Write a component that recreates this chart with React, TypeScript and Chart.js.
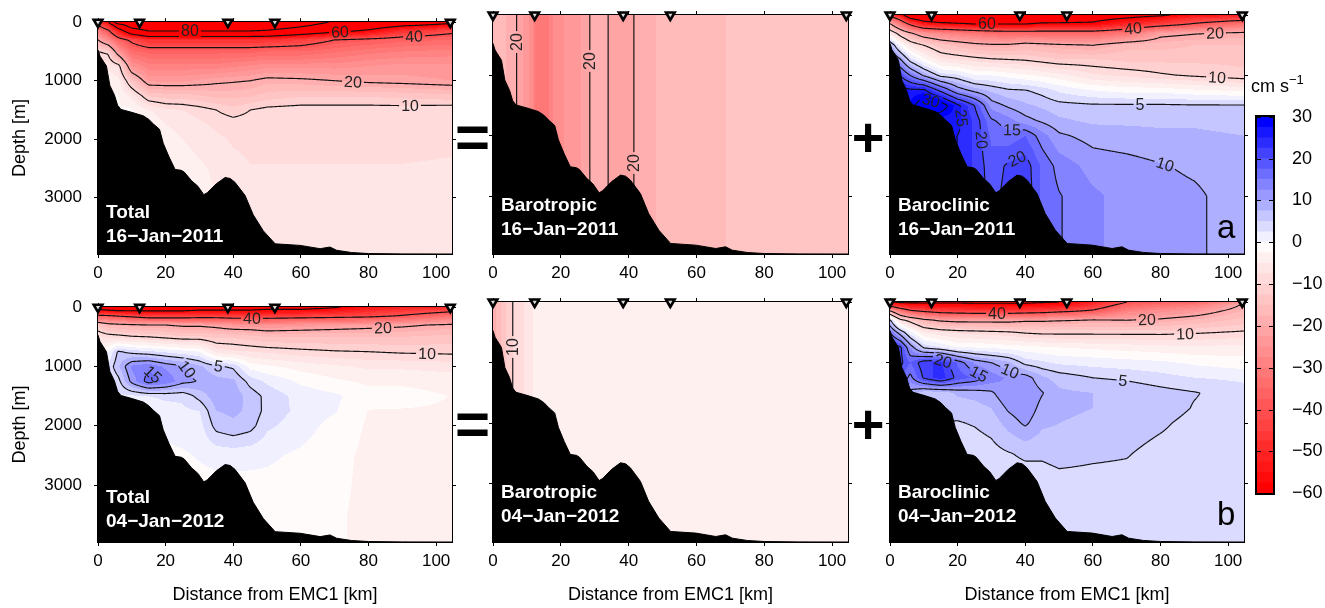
import React, { useEffect, useRef } from "react";
import { Chart, registerables } from "chart.js";

Chart.register(...registerables);

const FONT = '"Liberation Sans", Arial, Helvetica, sans-serif';
Chart.defaults.font.family = FONT;
Chart.defaults.color = "#000";

// ---------- axes ----------
const distTicks = [0, 20, 40, 60, 80, 100];
const depthTicks = [0, 1000, 2000, 3000];
const colorbarTicks = [30, 20, 10, 0, -10, -20, -30, -40, -50, -60];
const DIST_MAX = 104.7;
const DEPTH_MAX = 3960;
const C_MIN = -60;
const C_MAX = 30;
const C_STEP = 2.5;

// ---------- stations & bathymetry ----------
const stationKm = [0, 12.3, 38.4, 52.3, 104.2];

const bathyKm = [0, 0.6, 2.5, 3.5, 4.9, 5.8, 6.8, 10, 13.4, 15, 16.4, 18.2, 19.3, 21, 22.8, 24.6, 25.5, 27.7, 29.5, 31.3, 32.3, 35, 37.6, 39.1, 40.5, 42, 43.5, 45.9, 48.9, 52.4, 59.8, 65.7, 68.6, 70.6, 75, 80, 90, 104.7];
const bathyDepth = [470, 580, 750, 1080, 1250, 1420, 1490, 1540, 1600, 1660, 1740, 1830, 2070, 2300, 2515, 2530, 2560, 2710, 2800, 2946, 2913, 2760, 2653, 2670, 2735, 2847, 2960, 3289, 3565, 3786, 3813, 3869, 3841, 3897, 3935, 3952, 3958, 3960];

// ---------- velocity grids (cm/s), one column per gridKm, top to bottom over gridDepth ----------
const gridKm = [0, 3, 6, 10, 15, 20, 25, 30, 35, 40, 45, 50, 60, 70, 80, 90, 104.7];
const gridDepth = [0, 50, 150, 300, 500, 750, 1000, 1250, 1500, 1750, 2000, 2500, 3000, 3500, 4000];

const total2011 = [
  [-45, -40, -30, -20, -10, -5, -3, -3, -3, -3, -3, -3, -3, -3, -3],
  [-58, -50, -38, -27, -11, -6, -3, -2, -2, -2, -2, -2, -2, -2, -2],
  [-95, -70, -52, -36, -24, -8, -4, -2.5, -2, -2, -2, -2, -2, -2, -2],
  [-100, -90, -70, -42, -34, -25, -14, -6, -2.2, -2, -2, -2, -2, -2, -2],
  [-100, -96, -80, -48, -36, -29, -23, -13, -5, -2, -2, -2, -2, -2, -2],
  [-100, -96, -80, -48, -36, -29, -23, -14, -7, -5, -3.5, -2.5, -2, -2, -2],
  [-100, -96, -80, -48, -36, -29, -23, -14, -7.5, -6, -5, -3.5, -3, -3, -3],
  [-100, -96, -80, -48, -36, -29, -22, -15, -8.5, -7, -6, -4.5, -4, -4, -4],
  [-100, -96, -80, -48, -36, -29, -21, -16, -10, -8, -7, -5.5, -5, -5, -5],
  [-100, -96, -80, -48, -36, -28, -20.5, -16, -11.5, -8.5, -7.8, -6.8, -5.8, -5.5, -5.5],
  [-100, -96, -80, -48, -36, -27, -20, -15.5, -10, -8.5, -8, -7.4, -6.5, -6, -6],
  [-98, -94, -78, -48, -35, -26, -18.5, -14, -9, -8.5, -8, -7.4, -6.5, -6, -6],
  [-90, -84, -70, -45, -35, -26, -19, -13, -8.5, -8.3, -8, -7.4, -6.5, -6, -6],
  [-78, -72, -63, -40, -33, -26, -20, -13, -8.5, -8.3, -8, -7.4, -6.5, -6, -6],
  [-72, -68, -58, -38, -31, -25, -21, -13, -8.5, -8.3, -8, -7.4, -6.5, -6, -6],
  [-68, -62, -48, -36, -30, -24, -21.5, -13.5, -8.5, -8.2, -8, -7.4, -6.5, -6, -6],
  [-62, -57, -42, -35, -29, -24.5, -22.5, -14.5, -7.8, -7.8, -7.8, -7.3, -6.5, -6, -6],
];

const baroclinic2011 = [
  [-45, -35, -19, -5, 9, 16, 22, 28, 30, 30, 30, 30, 30, 30, 30],
  [-55, -45, -30, -13, 0, 11, 20, 27, 30, 30, 30, 30, 30, 30, 30],
  [-70, -61, -42, -19, -6, 4, 15, 26, 28, 28, 28, 28, 28, 28, 28],
  [-80, -68, -53, -25, -10, -1, 9.5, 26, 34, 30, 28, 28, 28, 28, 28],
  [-80, -72, -56, -28, -14, -6, 4, 19, 33, 26, 25, 25, 25, 25, 25],
  [-80, -72, -58, -30, -16, -7, 3, 12, 26, 26, 25, 25, 25, 25, 25],
  [-80, -72, -60, -32, -18, -8, 0, 9, 20, 22, 22, 22, 22, 22, 22],
  [-80, -72, -60, -34, -19, -9, 0, 7, 11.5, 15.5, 17, 18.5, 19, 19, 19],
  [-78, -72, -60, -35, -19, -9.5, -1, 5.5, 9.5, 13.5, 16, 20.5, 21, 21, 21],
  [-75, -70, -60, -35, -17, -10, -2, 5.2, 8, 11, 17.5, 21.5, 22, 22, 22],
  [-72, -68, -58, -35, -18, -11, -3, 4, 7, 9.5, 13.5, 17, 17, 17, 17],
  [-70, -67, -58, -35, -19, -12, -4, 2, 6, 8, 10.5, 14, 15.2, 15.2, 15.2],
  [-68, -64, -58, -35, -20, -12, -7, 0, 5.5, 7, 9, 11.5, 13, 13, 13],
  [-65, -60, -50, -32, -16, -13, -8, -1, 5.5, 7, 8.5, 11, 11.5, 11.5, 11.5],
  [-62, -55, -45, -22, -16, -13, -9.5, -1, 5.5, 7, 8, 10.2, 11, 11, 11],
  [-55, -48, -39, -20.5, -15, -13, -10.5, -2, 5.3, 7, 8, 9.5, 10.5, 10.5, 10.5],
  [-52, -45, -32, -19, -15, -13, -12, -3, 5.3, 6.5, 7.5, 8.5, 8.5, 8.5, 8.5],
];

const total2012 = [
  [-65, -58, -37, -13, -7, -2, 1, 1, 1, -1, -1, -1, -1, -1, -1],
  [-68, -60, -38, -17, -8, 0, 3, 2, 1, -1, -1, -1, -1, -1, -1],
  [-68, -62, -40, -18, -8.5, 5.5, 7, 4, 2, 0.5, -0.5, -1, -1, -1, -1],
  [-68, -62, -42, -19, -9.5, 4, 13, 11, 2, 1, -0.5, -1, -1, -1, -1],
  [-68, -62, -45, -20, -10, 3, 14.5, 16.5, 2.5, 0.5, -0.5, -1, -1, -1, -1],
  [-67, -62, -45, -20, -11, 2, 12, 14.5, 3, 1.5, 0.5, -0.5, -1, -1, -1],
  [-67, -62, -45, -21, -12, 1, 10.5, 11, 3, 2, 1, -0.3, -1, -1, -1],
  [-66, -60, -44, -21, -12, 0, 8, 9.8, 6, 2.5, 1.5, 0.2, -0.8, -1, -1],
  [-66, -60, -44, -22, -13, -6, 5.5, 8.5, 9, 7.5, 6, 0.8, -0.8, -1, -1],
  [-65, -60, -45, -24, -13, -7, 4.5, 8, 9, 8, 7, 1, -0.8, -1, -1],
  [-65, -60, -45, -24, -14, -7.5, -1, 4, 6.5, 7, 6, 0.8, -0.8, -1, -1],
  [-65, -58, -45, -25, -15, -8, -2, 2, 4.2, 4, 3, 0.5, -0.8, -1, -1],
  [-65, -58, -44, -24, -15, -9, -3.5, -0.5, 1.5, 1.8, 1.2, -0.5, -1.2, -1.2, -1.2],
  [-61, -55, -43, -23, -15, -9.7, -4.5, -2, 0.5, 0.2, -1, -1.8, -2, -2.2, -2.2],
  [-55, -50, -42, -22, -15, -10, -5.5, -3, -1.5, -2.6, -2.8, -3, -3, -3, -3],
  [-52, -47, -39, -21, -15, -10.5, -5.5, -3, -1.5, -2.7, -3, -3, -3.2, -3.2, -3.2],
  [-50, -43, -32, -19, -14, -10.8, -6, -3.5, -2.6, -2.8, -3, -3, -3.2, -3.2, -3.2],
];

const baroclinic2012 = [
  [-60, -45, -19, 6, 15, 22, 22, 22, 22, 22, 22, 22, 22, 22, 22],
  [-62, -52, -30, -8, 8, 21, 21, 18, 18, 18, 18, 18, 18, 18, 18],
  [-62, -55, -38, -12, 1, 12, 17.5, 14, 9, 9, 9, 9, 9, 9, 9],
  [-62, -56, -41, -18, -5, 4.5, 22, 20.5, 6, 5.5, 5, 5, 5, 5, 5],
  [-62, -56, -44, -21, -7, 2.5, 23, 24, 6, 5.5, 5, 4, 4, 4, 4],
  [-62, -56, -45, -22, -8, 0, 17, 19, 8, 6, 4.8, 3.5, 3.5, 3.5, 3.5],
  [-62, -57, -46, -22, -8.5, 0, 12, 17, 8.5, 6.5, 5.2, 3.5, 3.5, 3.5, 3.5],
  [-62, -57, -46, -22, -9, -0.5, 10, 14, 9.5, 7.5, 6, 4, 3.5, 3.5, 3.5],
  [-62, -57, -46, -22, -9.5, -1, 8, 12, 12.5, 10.5, 8.5, 4.8, 3.5, 3.5, 3.5],
  [-62, -57, -45, -21, -10.5, -1.5, 4, 11.5, 12.5, 12, 10.5, 5.5, 3.5, 3.5, 3.5],
  [-61, -56, -44, -21, -11, -2, 3, 8, 10.2, 9, 8, 5.5, 3.5, 3.5, 3.5],
  [-60, -55, -42, -20.5, -11, -2.5, 2, 6.5, 8, 8, 7.5, 6, 4, 3.5, 3.5],
  [-52, -47, -38.5, -19.5, -11, -3, 1.5, 5, 7.5, 7.5, 7, 5.5, 4, 3.5, 3.5],
  [-40, -36, -29, -20, -11, -3.5, 1, 4.5, 7, 7.2, 6.5, 5.2, 4, 3.5, 3.5],
  [-38, -32, -26, -19, -11, -4, 0.5, 3.5, 6, 6.5, 5.5, 4, 3.5, 3.5, 3.5],
  [-36, -30, -23.5, -17, -10.5, -4.5, -0.5, 2.5, 5.2, 4.8, 4, 3.5, 3.5, 3.5, 3.5],
  [-25, -19, -17, -14, -9.5, -4, -1.5, 2, 3.5, 3.8, 3.5, 3.5, 3.5, 3.5, 3.5],
];

// barotropic: depth independent, function of distance only
const barotropic2011Km = [0, 2, 5, 7, 8.5, 10, 11.5, 12.5, 14.5, 16.5, 18, 21, 25, 28.5, 31, 34, 37, 40, 41.5, 45, 48, 60, 68.8, 80, 104.7];
const barotropic2011 = [-15, -16, -18.5, -20, -22, -24, -27, -30, -32, -30, -27, -25, -23.5, -20, -19, -20, -22.5, -22, -20, -18.5, -17.5, -16, -15, -14, -13.5];
const barotropic2012Km = [0, 1.5, 3, 4.5, 5.8, 9.2, 11.9, 30, 104.7];
const barotropic2012 = [-19.5, -16.5, -13.5, -11.5, -10, -7.5, -5, -4.6, -4.4];

const contourLevels = [-80, -60, -40, -20, -10, 5, 10, 15, 20, 25, 30];

// contour labels: [distance km, depth m, level]
const total2011Labels = [[27.2, 150, -80], [71.6, 185, -60], [93.3, 215, -40], [75.5, 1000, -20], [92.3, 1390, -10]];
const barotropic2011Labels = [[7.2, 440, -20], [28.6, 770, -20], [41.8, 2460, -20]];
const baroclinic2011Labels = [[28.6, 150, -60], [72, 250, -40], [96.2, 300, -20], [96.6, 1077, -10], [74, 1470, 5], [12.3, 1409, 30], [19.7, 1713, 25], [27.6, 2072, 20], [36, 1851, 15], [36.5, 2238, 20], [81.4, 2459, 10]];
const total2012Labels = [[45.5, 199, -40], [84.4, 348, -20], [97.2, 774, -10], [35.6, 985, 5], [26.7, 1040, 10], [16.9, 1095, 15]];
const barotropic2012Labels = [[5.6, 736, -10]];
const baroclinic2012Labels = [[31.6, 199, -40], [75.9, 265, -20], [87.3, 541, -10], [15.3, 1039, 20], [26.6, 1149, 15], [36, 1094, 10], [69, 1287, 5]];

// ---------- field helpers ----------
function locate(nodes: number[], v: number): [number, number] {
  const n = nodes.length;
  if (v <= nodes[0]) return [0, 0];
  if (v >= nodes[n - 1]) return [n - 2, 1];
  let i = 0;
  while (v > nodes[i + 1]) i++;
  return [i, (v - nodes[i]) / (nodes[i + 1] - nodes[i])];
}
function gridField(cols: number[][]) {
  return (km: number, depth: number) => {
    const [i, tx] = locate(gridKm, km);
    const [j, ty] = locate(gridDepth, depth);
    const a = cols[i][j], b = cols[i + 1][j], c = cols[i][j + 1], d = cols[i + 1][j + 1];
    return (a * (1 - tx) + b * tx) * (1 - ty) + (c * (1 - tx) + d * tx) * ty;
  };
}
function profileField(xs: number[], vs: number[]) {
  return (km: number, _depth: number) => {
    const [i, t] = locate(xs, km);
    return vs[i] * (1 - t) + vs[i + 1] * t;
  };
}

const N_BANDS = Math.round((C_MAX - C_MIN) / C_STEP);
function colormap(v: number): number[] {
  if (v >= 0) {
    const s = Math.min(v / C_MAX, 1);
    return [255 * (1 - s), 255 * (1 - s), 255];
  }
  const s = Math.min(v / C_MIN, 1);
  return [255, 255 * (1 - s), 255 * (1 - s)];
}
const bandColors: number[][] = [];
for (let k = 0; k < N_BANDS; k++) bandColors.push(colormap(C_MIN + ((C_MAX - C_MIN) * k) / (N_BANDS - 1)).map(Math.round));
function bandIndex(v: number) {
  const k = Math.floor((v - C_MIN) / C_STEP);
  return k < 0 ? 0 : k >= N_BANDS ? N_BANDS - 1 : k;
}
const rgbStr = (c: number[]) => `rgb(${c[0]},${c[1]},${c[2]})`;
const fmtNum = (v: number) => (v < 0 ? "\u2212" + Math.abs(v) : String(v));

// ---------- panels ----------
const panels = [
  { key: "t11", col: 0, row: 0, field: gridField(total2011), labels: total2011Labels, title: ["Total", "16\u2212Jan\u22122011"], letter: "" },
  { key: "bt11", col: 1, row: 0, field: profileField(barotropic2011Km, barotropic2011), labels: barotropic2011Labels, title: ["Barotropic", "16\u2212Jan\u22122011"], letter: "" },
  { key: "bc11", col: 2, row: 0, field: gridField(baroclinic2011), labels: baroclinic2011Labels, title: ["Baroclinic", "16\u2212Jan\u22122011"], letter: "a" },
  { key: "t12", col: 0, row: 1, field: gridField(total2012), labels: total2012Labels, title: ["Total", "04\u2212Jan\u22122012"], letter: "" },
  { key: "bt12", col: 1, row: 1, field: profileField(barotropic2012Km, barotropic2012), labels: barotropic2012Labels, title: ["Barotropic", "04\u2212Jan\u22122012"], letter: "" },
  { key: "bc12", col: 2, row: 1, field: gridField(baroclinic2012), labels: baroclinic2012Labels, title: ["Baroclinic", "04\u2212Jan\u22122012"], letter: "b" },
];

const colGeom = [
  { left: 0, width: 470, leftW: 98, rightW: 18 },
  { left: 473, width: 393, leftW: 20, rightW: 18 },
  { left: 870, width: 380, leftW: 20, rightW: 6 },
];
const rowGeom = [
  { top: 0, height: 285, topH: 15, bottomH: 31 },
  { top: 285, height: 323, topH: 17, bottomH: 66 },
];

const operators = [
  { ch: "=", x: 472.5, y: 137, size: 60 },
  { ch: "=", x: 472.5, y: 424, size: 60 },
  { ch: "+", x: 868, y: 136.5, size: 56 },
  { ch: "+", x: 868, y: 424, size: 56 },
];

function strokeContours(lctx: CanvasRenderingContext2D, cv: Float32Array, W: number, H: number) {
  const NX = W + 1;
  lctx.beginPath();
  const seg = (p: number[], q: number[]) => {
    lctx.moveTo(p[0], p[1]);
    lctx.lineTo(q[0], q[1]);
  };
  for (const z of contourLevels) {
    for (let j = 0; j < H; j++) {
      for (let i = 0; i < W; i++) {
        const a = cv[j * NX + i], b = cv[j * NX + i + 1], c = cv[(j + 1) * NX + i + 1], d = cv[(j + 1) * NX + i];
        const sa = a >= z, sb = b >= z, sc = c >= z, sd = d >= z;
        if (sa === sb && sb === sc && sc === sd) continue;
        const top = sa !== sb ? [i + (z - a) / (b - a), j] : null;
        const right = sb !== sc ? [i + 1, j + (z - b) / (c - b)] : null;
        const bottom = sd !== sc ? [i + (z - d) / (c - d), j + 1] : null;
        const left = sa !== sd ? [i, j + (z - a) / (d - a)] : null;
        const list = [top, right, bottom, left].filter(Boolean) as number[][];
        if (list.length === 2) seg(list[0], list[1]);
        else if (list.length === 4) {
          const center = (a + b + c + d) / 4 >= z;
          if (center === sa) {
            seg(top!, right!);
            seg(bottom!, left!);
          } else {
            seg(top!, left!);
            seg(right!, bottom!);
          }
        }
      }
    }
  }
  lctx.stroke();
}

function findLabelPoint(cv: Float32Array, W: number, H: number, tx: number, ty: number, z: number) {
  const NX = W + 1;
  const R = 30;
  let best: number[] | null = null;
  let bd = Infinity;
  const j0 = Math.max(0, Math.round(ty) - R), j1 = Math.min(H, Math.round(ty) + R);
  const i0 = Math.max(0, Math.round(tx) - R), i1 = Math.min(W, Math.round(tx) + R);
  for (let j = j0; j <= j1; j++) {
    for (let i = i0; i <= i1; i++) {
      const v = cv[j * NX + i];
      if (i < W) {
        const v2 = cv[j * NX + i + 1];
        if (v >= z !== v2 >= z) {
          const px = i + (z - v) / (v2 - v), py = j;
          const dd = (px - tx) ** 2 + (py - ty) ** 2;
          if (dd < bd) { bd = dd; best = [px, py]; }
        }
      }
      if (j < H) {
        const v3 = cv[(j + 1) * NX + i];
        if (v >= z !== v3 >= z) {
          const px = i, py = j + (z - v) / (v3 - v);
          const dd = (px - tx) ** 2 + (py - ty) ** 2;
          if (dd < bd) { bd = dd; best = [px, py]; }
        }
      }
    }
  }
  if (!best) return null;
  const ii = Math.min(W - 3, Math.max(3, Math.round(best[0])));
  const jj = Math.min(H - 3, Math.max(3, Math.round(best[1])));
  const gx = cv[jj * NX + ii + 3] - cv[jj * NX + ii - 3];
  const gy = cv[(jj + 3) * NX + ii] - cv[(jj - 3) * NX + ii];
  let ang = Math.atan2(gx, -gy);
  if (ang > Math.PI / 2 - 0.01) ang -= Math.PI;
  if (ang < -Math.PI / 2 - 0.01) ang += Math.PI;
  return { x: best[0], y: best[1], ang };
}

function sectionPlugin(p: any) {
  return {
    id: "section_" + p.key,
    beforeDatasetsDraw(chart: any) {
      const ctx: CanvasRenderingContext2D = chart.ctx;
      const a = chart.chartArea;
      const xs = chart.scales.x, ys = chart.scales.y;
      const L = Math.round(a.left), T = Math.round(a.top);
      const W = Math.round(a.right) - L, H = Math.round(a.bottom) - T;
      const f = p.field;
      // filled bands
      const off = document.createElement("canvas");
      off.width = W;
      off.height = H;
      const octx = off.getContext("2d")!;
      const img = octx.createImageData(W, H);
      const xc: number[] = [], yc: number[] = [];
      for (let i = 0; i < W; i++) xc.push(xs.getValueForPixel(L + i + 0.5));
      for (let j = 0; j < H; j++) yc.push(ys.getValueForPixel(T + j + 0.5));
      for (let j = 0; j < H; j++) {
        for (let i = 0; i < W; i++) {
          const c = bandColors[bandIndex(f(xc[i], yc[j]))];
          const o = (j * W + i) * 4;
          img.data[o] = c[0];
          img.data[o + 1] = c[1];
          img.data[o + 2] = c[2];
          img.data[o + 3] = 255;
        }
      }
      octx.putImageData(img, 0, 0);
      ctx.drawImage(off, L, T);
      // corner samples
      const NX = W + 1, NY = H + 1;
      const cv = new Float32Array(NX * NY);
      const xk: number[] = [], yk: number[] = [];
      for (let i = 0; i < NX; i++) xk.push(xs.getValueForPixel(L + i));
      for (let j = 0; j < NY; j++) yk.push(ys.getValueForPixel(T + j));
      for (let j = 0; j < NY; j++) for (let i = 0; i < NX; i++) cv[j * NX + i] = f(xk[i], yk[j]);
      // contour lines
      const lc = document.createElement("canvas");
      lc.width = W;
      lc.height = H;
      const lctx = lc.getContext("2d")!;
      lctx.strokeStyle = "#111";
      lctx.lineWidth = 1.15;
      strokeContours(lctx, cv, W, H);
      // labels
      ctx.save();
      ctx.font = `16px ${FONT}`;
      const placed: any[] = [];
      for (const lb of p.labels) {
        const tx = xs.getPixelForValue(lb[0]) - L;
        const ty = ys.getPixelForValue(lb[1]) - T;
        const pt = findLabelPoint(cv, W, H, tx, ty, lb[2]);
        const text = String(Math.abs(lb[2]));
        const tw = ctx.measureText(text).width;
        const q = pt || { x: tx, y: ty, ang: 0 };
        placed.push({ ...q, text, tw });
      }
      lctx.save();
      lctx.globalCompositeOperation = "destination-out";
      lctx.fillStyle = "#000";
      for (const q of placed) {
        lctx.save();
        lctx.translate(q.x, q.y);
        lctx.rotate(q.ang);
        lctx.fillRect(-q.tw / 2 - 2, -6, q.tw + 4, 12);
        lctx.restore();
      }
      lctx.restore();
      ctx.drawImage(lc, L, T);
      ctx.fillStyle = "#222";
      ctx.textAlign = "center";
      ctx.textBaseline = "middle";
      for (const q of placed) {
        ctx.save();
        ctx.translate(L + q.x, T + q.y);
        ctx.rotate(q.ang);
        ctx.fillText(q.text, 0, 1);
        ctx.restore();
      }
      // frame
      ctx.strokeStyle = "#000";
      ctx.lineWidth = 1;
      ctx.strokeRect(L - 0.5, T - 0.5, W + 1, H + 1);
      ctx.restore();
    },
    afterDatasetsDraw(chart: any) {
      const ctx: CanvasRenderingContext2D = chart.ctx;
      const a = chart.chartArea;
      const L = Math.round(a.left), T = Math.round(a.top);
      ctx.save();
      ctx.textAlign = "left";
      ctx.textBaseline = "alphabetic";
      ctx.fillStyle = "#fff";
      ctx.font = `bold 19px ${FONT}`;
      ctx.fillText(p.title[0], L + 8, T + 196);
      ctx.fillText(p.title[1], L + 8, T + 220);
      if (p.letter) {
        ctx.fillStyle = "#000";
        ctx.font = `33px ${FONT}`;
        ctx.fillText(p.letter, L + 327, T + 223);
      }
      ctx.restore();
    },
  };
}

function axisCommon(ticksArr: number[]) {
  return {
    type: "linear",
    afterBuildTicks: (s: any) => {
      s.ticks = ticksArr.map((v) => ({ value: v }));
    },
    grid: { drawOnChartArea: false, drawTicks: true, tickLength: 4, color: "#000", lineWidth: 1 },
    border: { display: false },
  };
}

function createPanelChart(canvas: HTMLCanvasElement, p: any) {
  const cg = colGeom[p.col], rg = rowGeom[p.row];
  const showYLabels = p.col === 0;
  const showXTitle = p.row === 1;
  return new Chart(canvas, {
    type: "scatter",
    data: {
      datasets: [
        {
          label: "stations",
          data: stationKm.map((x) => ({ x, y: 0 })),
          pointStyle: "triangle",
          rotation: 180,
          radius: 5,
          pointRadius: 5,
          backgroundColor: "#ddd",
          borderColor: "#000",
          borderWidth: 2.6,
          clip: false,
          order: 0,
        } as any,
        {
          type: "line",
          label: "bathymetry",
          data: bathyKm.map((x, i) => ({ x, y: bathyDepth[i] })),
          borderColor: "#000",
          backgroundColor: "#000",
          borderWidth: 1,
          pointRadius: 0,
          tension: 0,
          fill: { value: DEPTH_MAX },
          order: 1,
        } as any,
      ],
    },
    options: {
      animation: false,
      responsive: false,
      devicePixelRatio: 1,
      events: [],
      layout: { padding: 0, autoPadding: false },
      plugins: { legend: { display: false }, tooltip: { enabled: false } },
      scales: {
        x: {
          ...axisCommon(distTicks),
          position: "bottom",
          min: 0,
          max: DIST_MAX,
          ticks: { display: true, padding: 5, font: { size: 17 }, color: "#000", maxRotation: 0, callback: (v: any) => fmtNum(v) },
          title: { display: showXTitle, text: "Distance from EMC1 [km]", font: { size: 18 }, color: "#000", padding: { top: 0, bottom: 2 } },
          afterFit: (s: any) => { s.height = rg.bottomH; },
        },
        x2: {
          ...axisCommon(distTicks),
          position: "top",
          min: 0,
          max: DIST_MAX,
          ticks: { display: false },
          afterFit: (s: any) => { s.height = rg.topH; },
        },
        y: {
          ...axisCommon(depthTicks),
          position: "left",
          min: 0,
          max: DEPTH_MAX,
          reverse: true,
          ticks: { display: showYLabels, padding: 12, font: { size: 17 }, color: "#000", callback: (v: any) => String(v) },
          title: { display: showYLabels, text: "Depth [m]", font: { size: 18 }, color: "#000", padding: { top: 9, bottom: 0 } },
          afterFit: (s: any) => { s.width = cg.leftW; },
        },
        y2: {
          ...axisCommon(depthTicks),
          position: "right",
          min: 0,
          max: DEPTH_MAX,
          reverse: true,
          ticks: { display: false },
          afterFit: (s: any) => { s.width = cg.rightW; },
        },
      } as any,
    },
    plugins: [sectionPlugin(p)],
  } as any);
}

const colorbarFrame = {
  id: "colorbarFrame",
  afterDatasetsDraw(chart: any) {
    const ctx: CanvasRenderingContext2D = chart.ctx;
    const a = chart.chartArea;
    const y = chart.scales.y;
    ctx.save();
    ctx.strokeStyle = "#000";
    ctx.lineWidth = 1;
    for (const v of colorbarTicks) {
      const py = Math.round(y.getPixelForValue(v)) + 0.5;
      ctx.beginPath();
      ctx.moveTo(a.left, py);
      ctx.lineTo(a.left + 4, py);
      ctx.moveTo(a.right - 4, py);
      ctx.lineTo(a.right, py);
      ctx.stroke();
    }
    ctx.lineWidth = 2;
    ctx.strokeRect(Math.round(a.left) - 1, Math.round(a.top) - 1, Math.round(a.right - a.left) + 2, Math.round(a.bottom - a.top) + 2);
    ctx.restore();
  },
};

function createColorbar(canvas: HTMLCanvasElement) {
  const datasets = bandColors.map((c, k) => ({
    data: [[C_MIN + k * C_STEP, C_MIN + (k + 1) * C_STEP]],
    backgroundColor: rgbStr(c),
    borderWidth: 0,
    barPercentage: 1,
    categoryPercentage: 1,
    grouped: false,
  }));
  return new Chart(canvas, {
    type: "bar",
    data: { labels: ["cm s-1"], datasets },
    options: {
      animation: false,
      responsive: false,
      devicePixelRatio: 1,
      events: [],
      layout: { padding: { left: 7, top: 18, bottom: 15, right: 0 }, autoPadding: false },
      plugins: { legend: { display: false }, tooltip: { enabled: false } },
      scales: {
        x: { display: false },
        y: {
          type: "linear",
          position: "right",
          min: C_MIN,
          max: C_MAX,
          afterBuildTicks: (s: any) => {
            s.ticks = colorbarTicks.map((v) => ({ value: v }));
          },
          ticks: { padding: 11, font: { size: 18 }, color: "#000", callback: (v: any) => fmtNum(v) },
          grid: { display: false },
          border: { display: false },
          afterFit: (s: any) => { s.width = 52; },
        },
      } as any,
    },
    plugins: [colorbarFrame],
  } as any);
}

export default function App() {
  const refs = useRef<(HTMLCanvasElement | null)[]>([]);
  const cbRef = useRef<HTMLCanvasElement | null>(null);
  useEffect(() => {
    const charts = panels.map((p, k) => createPanelChart(refs.current[k]!, p));
    const cb = createColorbar(cbRef.current!);
    return () => {
      charts.forEach((c) => c.destroy());
      cb.destroy();
    };
  }, []);
  return (
    <div style={{ position: "absolute", left: 0, top: 0, width: 1325, height: 608, background: "#fff", overflow: "hidden" }}>
      {panels.map((p, k) => {
        const cg = colGeom[p.col], rg = rowGeom[p.row];
        return (
          <canvas
            key={p.key}
            ref={(el) => {
              refs.current[k] = el;
            }}
            width={cg.width}
            height={rg.height}
            style={{ position: "absolute", left: cg.left, top: rg.top, width: cg.width, height: rg.height }}
          />
        );
      })}
      <canvas ref={cbRef} width={75} height={420} style={{ position: "absolute", left: 1250, top: 95, width: 75, height: 420 }} />
      {operators.map((o, k) => (
        <div
          key={k}
          style={{
            position: "absolute",
            left: o.x,
            top: o.y,
            transform: "translate(-50%, -50%)",
            font: `bold ${o.size}px ${FONT}`,
            lineHeight: 1,
            color: "#000",
          }}
        >
          {o.ch}
        </div>
      ))}
      <div style={{ position: "absolute", left: 1251, top: 77, font: `18px ${FONT}`, lineHeight: "18px", whiteSpace: "nowrap", color: "#000" }}>
        cm s<span style={{ fontSize: 13, position: "relative", top: -8 }}>{"\u22121"}</span>
      </div>
    </div>
  );
}
